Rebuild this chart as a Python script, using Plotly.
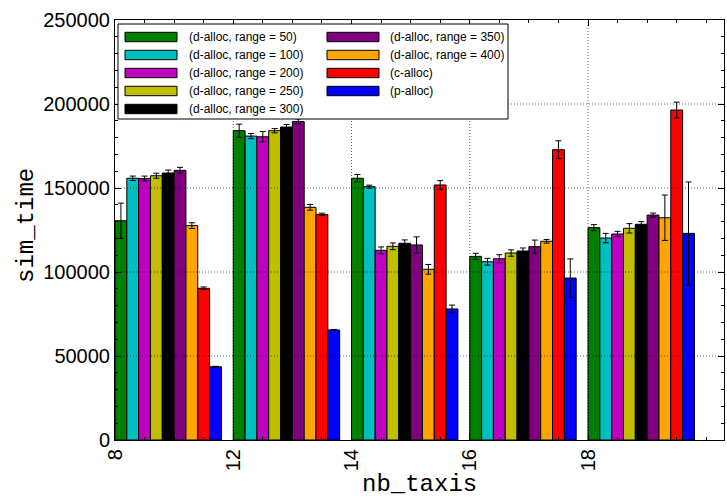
import numpy as np
import plotly.graph_objects as go

# Simulation time per fleet size, mean and error for each allocation strategy
nb_taxis = ["8", "12", "14", "16", "18"]

series_names = [
    "(d-alloc, range = 50)",
    "(d-alloc, range = 100)",
    "(d-alloc, range = 200)",
    "(d-alloc, range = 250)",
    "(d-alloc, range = 300)",
    "(d-alloc, range = 350)",
    "(d-alloc, range = 400)",
    "(c-alloc)",
    "(p-alloc)",
]

d_alloc_50 = [130500, 184100, 155800, 109300, 126400]
d_alloc_100 = [155800, 180900, 150800, 106100, 120200]
d_alloc_200 = [155600, 180500, 112900, 107900, 122600]
d_alloc_250 = [157300, 184100, 115300, 111300, 126000]
d_alloc_300 = [158900, 186300, 117100, 112500, 128400]
d_alloc_350 = [160500, 189600, 116100, 115100, 133900]
d_alloc_400 = [127600, 138500, 101600, 118300, 132300]
c_alloc = [90300, 134300, 151800, 172800, 196400]
p_alloc = [43600, 65500, 78000, 96400, 123000]

err_50 = [10500, 3900, 2200, 1800, 1800]
err_100 = [1300, 1500, 900, 2000, 2800]
err_200 = [1500, 3100, 2000, 2400, 1600]
err_250 = [1500, 1300, 2000, 1900, 2800]
err_300 = [1800, 1500, 2000, 1800, 1600]
err_350 = [1800, 1500, 4800, 3900, 1200]
err_400 = [1700, 1700, 2900, 1100, 13500]
err_c = [800, 700, 2600, 5300, 4700]
err_p = [300, 300, 2300, 11400, 30600]

means = [d_alloc_50, d_alloc_100, d_alloc_200, d_alloc_250, d_alloc_300,
         d_alloc_350, d_alloc_400, c_alloc, p_alloc]
errors = [err_50, err_100, err_200, err_250, err_300,
          err_350, err_400, err_c, err_p]

colors = ["#007f00", "#00bfbf", "#bf00bf", "#bfbf00", "#000000",
          "#800080", "#ffa500", "#ff0000", "#0000ff"]

y_ticks = [0, 50000, 100000, 150000, 200000, 250000]

# Canvas geometry (pixels)
W, H = 727, 497
L, R, T, B = 115, 3, 20, 57
PW, PH = W - L - R, H - T - B


def px(xp):
    return (xp - L) / PW


def py(yp):
    return (H - B - yp) / PH


group_pos = np.arange(len(nb_taxis))

fig = go.Figure()
for name, vals, errs, col in zip(series_names, means, errors, colors):
    fig.add_trace(go.Bar(
        x=group_pos + 0.45,
        y=vals,
        name=name,
        marker=dict(color=col, line=dict(color="black", width=1)),
        error_y=dict(type="data", array=errs, color="black",
                     thickness=1, width=3),
        showlegend=False,
    ))

tick_font = dict(family="Liberation Sans, Arial, sans-serif", size=20, color="black")

fig.update_layout(
    width=W, height=H,
    margin=dict(l=L, r=R, t=T, b=B, pad=0),
    paper_bgcolor="white", plot_bgcolor="white",
    barmode="group", bargap=0.1, bargroupgap=0,
    font=tick_font,
)

fig.update_xaxes(
    range=[0, 5.15],
    tickmode="array", tickvals=group_pos, ticktext=nb_taxis,
    tickangle=-90, tickfont=tick_font,
    ticks="inside", ticklen=6, tickcolor="black",
    minor=dict(ticks="inside", ticklen=3, dtick=0.25, tickcolor="black", showgrid=False),
    showline=True, linecolor="black", linewidth=1, mirror="ticks",
    showgrid=False, zeroline=False,
)
fig.update_yaxes(
    range=[0, 250000],
    tickmode="array", tickvals=y_ticks, ticktext=[str(v) for v in y_ticks],
    tickfont=tick_font,
    ticks="inside", ticklen=6, tickcolor="black",
    minor=dict(ticks="inside", ticklen=3, dtick=10000, tickcolor="black", showgrid=False),
    showline=True, linecolor="black", linewidth=1, mirror="ticks",
    showgrid=False, zeroline=False,
)

# Fine dotted grid drawn over the bars
grid_style = dict(color="rgba(0,0,0,0.6)", width=1, dash="1px,2px")
for v in y_ticks[1:-1]:
    fig.add_shape(type="line", xref="paper", yref="y", x0=0, x1=1, y0=v, y1=v,
                  line=grid_style, layer="above")
for g in group_pos[1:]:
    fig.add_shape(type="line", xref="x", yref="paper", x0=g, x1=g, y0=0, y1=1,
                  line=grid_style, layer="above")

# Two-column legend box with wide colour swatches
fig.add_shape(type="rect", xref="paper", yref="paper",
              x0=px(118), x1=px(508), y0=py(119), y1=py(24),
              fillcolor="white", line=dict(color="black", width=1), layer="above")

row_y = [37, 55, 73, 91, 109]
col_swatch = [(125, 177), (327, 379)]
col_text = [187, 388]
for i, (name, col) in enumerate(zip(series_names, colors)):
    c = 0 if i < 5 else 1
    r = i if i < 5 else i - 5
    yc = row_y[r]
    fig.add_shape(type="rect", xref="paper", yref="paper",
                  x0=px(col_swatch[c][0]), x1=px(col_swatch[c][1]),
                  y0=py(yc + 4.7), y1=py(yc - 4.7),
                  fillcolor=col, line=dict(color="black", width=1), layer="above")
    fig.add_annotation(xref="paper", yref="paper", x=px(col_text[c]), y=py(yc),
                       text=name, showarrow=False, xanchor="left", yanchor="middle",
                       font=dict(family="Liberation Sans, Arial, sans-serif",
                                 size=12, color="black"))

# Axis titles in typewriter face
title_font = dict(family="Liberation Mono, DejaVu Sans Mono, monospace", size=24, color="black")
fig.add_annotation(xref="paper", yref="paper", x=0.5, y=py(484),
                   text="nb_taxis", showarrow=False, xanchor="center", yanchor="middle",
                   font=title_font)
fig.add_annotation(xref="paper", yref="paper", x=px(26), y=py(226),
                   text="sim_time", showarrow=False, xanchor="center", yanchor="middle",
                   textangle=-90, font=title_font)

fig.write_html("out.html")
